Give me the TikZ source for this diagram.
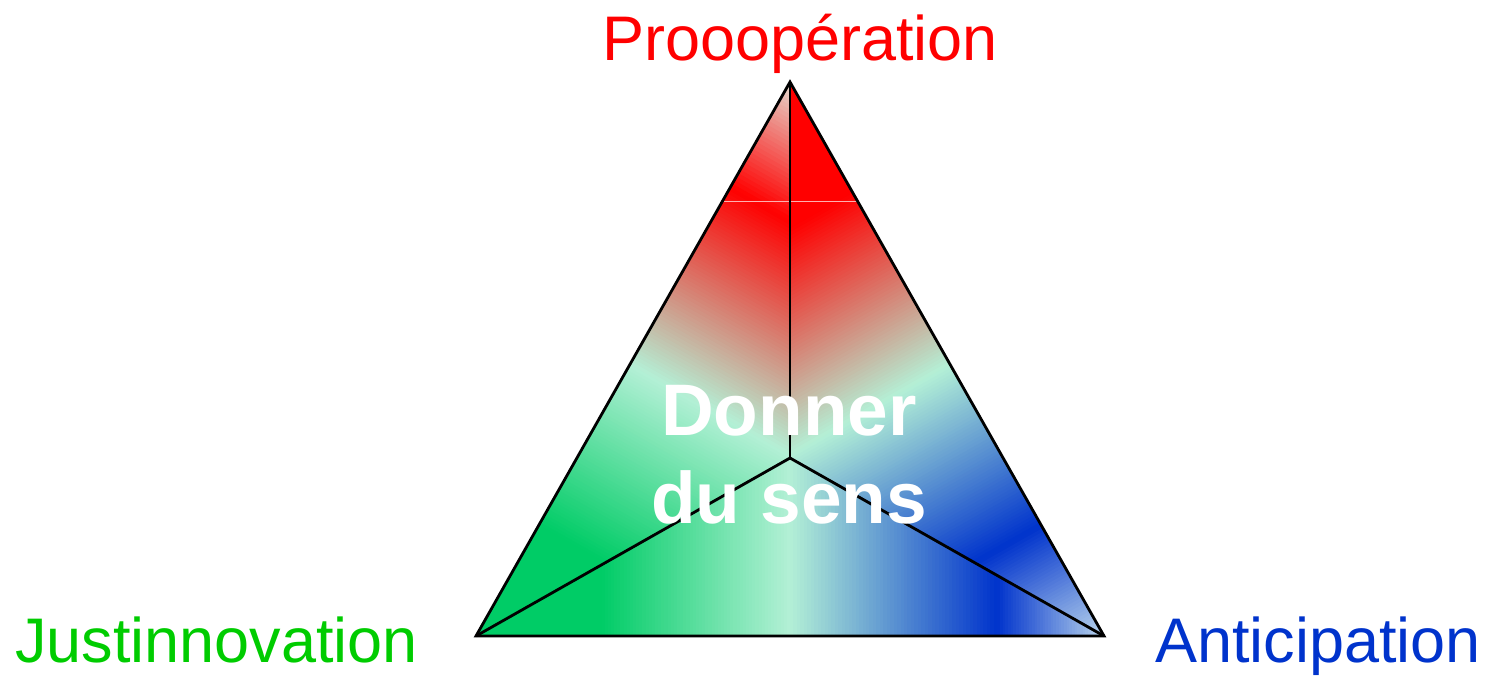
\documentclass[tikz,border=0pt]{standalone}
\usepackage{fontspec}
\setmainfont{Liberation Sans}
\usetikzlibrary{calc}
\definecolor{cred}{RGB}{255,0,0}
\definecolor{cmint}{RGB}{180,240,214}
\definecolor{cgreen}{RGB}{0,204,102}
\definecolor{cblue}{RGB}{0,51,204}
\definecolor{cpaleR}{RGB}{228,218,208}
\definecolor{cpaleB}{RGB}{185,212,236}
\definecolor{tgreen}{RGB}{0,204,0}
\definecolor{tblue}{RGB}{0,51,204}
\definecolor{seamcol}{RGB}{255,175,175}
% #1 P0, #2 P1, #3 ta, #4 tb, #5 c1, #6 c2, #7 N, #8 half-width normal
\newcommand{\gradseg}[8]{%
  \foreach \gk in {1,...,#7}{%
    \pgfmathsetmacro{\gsa}{#3+(#4-#3)*(\gk-1)/#7}%
    \pgfmathsetmacro{\gsb}{#3+(#4-#3)*\gk/#7+0.003}%
    \pgfmathsetmacro{\gmix}{100*(\gk-0.5)/#7}%
    \fill[color=#6!\gmix!#5] ($(#1)!\gsa!(#2)+(#8)$) -- ($(#1)!\gsb!(#2)+(#8)$) -- ($(#1)!\gsb!(#2)-(#8)$) -- ($(#1)!\gsa!(#2)-(#8)$) -- cycle;
  }}
\tikzset{
  edge/.style={draw=black, line width=2.8pt},
  lbl/.style={font=\fontsize{63}{70}\selectfont, inner sep=0pt, anchor=base},
  midlbl/.style={font=\bfseries\fontsize{73}{88}\selectfont, text=white, align=center, inner sep=0pt},
  seam/.style={draw=seamcol, line width=1pt}
}
\begin{document}
\begin{tikzpicture}[x=1pt,y=-1pt]
\useasboundingbox (0,0) rectangle (1487,675);
\coordinate (A) at (790,82);
\coordinate (BL) at (476,636);
\coordinate (BR) at (1104,636);
\coordinate (C) at (790,458);
\coordinate (sL) at (723,201);
\coordinate (sR) at (857,201);
% left sub-triangle
\begin{scope}
  \clip (A) -- (C) -- (BL) -- cycle;
  \gradseg{A}{BL}{0}{0.19}{cpaleR}{cred}{30}{554,314}
  \gradseg{A}{BL}{0.19}{0.51}{cred}{cmint}{60}{554,314}
  \gradseg{A}{BL}{0.51}{0.80}{cmint}{cgreen}{60}{554,314}
  \gradseg{A}{BL}{0.80}{1.02}{cgreen}{cgreen}{2}{554,314}
\end{scope}
% right sub-triangle
\begin{scope}
  \clip (A) -- (C) -- (BR) -- cycle;
  \gradseg{A}{BR}{-0.02}{0.20}{cred}{cred}{2}{554,-314}
  \gradseg{A}{BR}{0.20}{0.51}{cred}{cmint}{60}{554,-314}
  \gradseg{A}{BR}{0.51}{0.80}{cmint}{cblue}{60}{554,-314}
  \gradseg{A}{BR}{0.80}{1.0}{cblue}{cpaleB}{40}{554,-314}
\end{scope}
% bottom sub-triangle
\begin{scope}
  \clip (BL) -- (C) -- (BR) -- cycle;
  \gradseg{BL}{BR}{-0.02}{0.20}{cgreen}{cgreen}{2}{0,400}
  \gradseg{BL}{BR}{0.20}{0.50}{cgreen}{cmint}{60}{0,400}
  \gradseg{BL}{BR}{0.50}{0.83}{cmint}{cblue}{60}{0,400}
  \gradseg{BL}{BR}{0.83}{1.0}{cblue}{cpaleB}{40}{0,400}
\end{scope}
\draw[seam] (sL) -- (sR);
\draw[edge] (C) -- (A);
\draw[edge] (C) -- (BL);
\draw[edge] (C) -- (BR);
\draw[edge] (A) -- (BR) -- (BL) -- cycle;
\node[lbl, text=cred] (top) at (800,60) {Prooopération};
\node[lbl, text=tgreen] (left) at (216.5,662) {Justinnovation};
\node[lbl, text=tblue] (right) at (1318,662) {Anticipation};
\node[midlbl, anchor=base] (mid) at (789,523) {Donner\\du sens};
\end{tikzpicture}
\end{document}
